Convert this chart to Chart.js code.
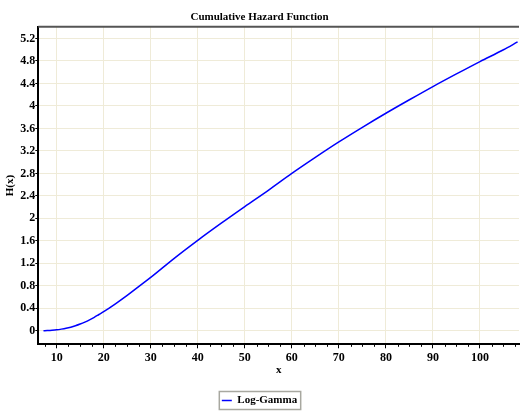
<!DOCTYPE html>
<html>
<head>
<meta charset="utf-8">
<script src="https://cdn.jsdelivr.net/npm/chart.js@4.4.1/dist/chart.umd.min.js"></script>
<style>
  body { margin: 0; background: #fff; }
  #wrap { width: 520px; height: 412px; }
</style>
</head>
<body>
<div id="wrap"><canvas id="hazardChart" width="520" height="412"></canvas></div>
<script>
// values
const xValues = [7.2, 8, 9, 10, 11, 12, 13, 14, 15, 16, 17, 18, 19, 20, 22.5, 25, 27.5, 30, 35, 40, 45, 50, 55, 60, 65, 70, 75, 80, 85, 90, 95, 100, 105, 108];
const hValues = [0, 0.004, 0.01, 0.018, 0.03, 0.045, 0.065, 0.09, 0.12, 0.155, 0.195, 0.24, 0.29, 0.34, 0.48, 0.63, 0.79, 0.95, 1.29, 1.61, 1.915, 2.21, 2.5, 2.8, 3.085, 3.36, 3.62, 3.87, 4.11, 4.345, 4.57, 4.79, 5.0, 5.14];
const xTicks = [10, 20, 30, 40, 50, 60, 70, 80, 90, 100];
const yTicks = [0, 0.4, 0.8, 1.2, 1.6, 2, 2.4, 2.8, 3.2, 3.6, 4, 4.4, 4.8, 5.2];
const seriesName = 'Log-Gamma';

const serif = 'Liberation Serif';
const boldFont = { family: serif, weight: 'bold', size: 11 };
const tickFont = { family: serif, weight: 'bold', size: 12 };

// top frame line, minor ticks on x and the box round the legend
const extras = {
    id: 'extras',
    afterDraw(chart) {
        const ctx = chart.ctx;
        const area = chart.chartArea;
        const xs = chart.scales.x;

        ctx.save();
        ctx.strokeStyle = '#555';
        ctx.lineWidth = 2;
        ctx.beginPath();
        ctx.moveTo(area.left, area.top);
        ctx.lineTo(area.right, area.top);
        ctx.stroke();

        ctx.strokeStyle = '#000';
        ctx.lineWidth = 1;
        const step = (xTicks[1] - xTicks[0]) / 4;
        for (let v = xTicks[0] - step * 4; v <= xs.max; v += step) {
            if (v < xs.min || xTicks.includes(v)) continue;
            const px = Math.round(xs.getPixelForValue(v)) + 0.5;
            ctx.beginPath();
            ctx.moveTo(px, area.bottom);
            ctx.lineTo(px, area.bottom + 2.5);
            ctx.stroke();
        }

        const box = chart.legend.legendHitBoxes[0];
        if (box) {
            ctx.strokeStyle = '#a8a8a0';
            ctx.lineWidth = 1.5;
            ctx.strokeRect(box.left - 2.5, box.top - 3.5, box.width + 6, box.height + 7);
        }
        ctx.restore();
    }
};

new Chart(document.getElementById('hazardChart'), {
    type: 'line',
    data: {
        datasets: [{
            label: seriesName,
            data: xValues.map((x, i) => ({ x: x, y: hValues[i] })),
            borderColor: '#0000ff',
            backgroundColor: '#0000ff',
            borderWidth: 1.5,
            pointRadius: 0,
            fill: false,
            cubicInterpolationMode: 'monotone'
        }]
    },
    options: {
        responsive: false,
        animation: false,
        layout: {
            padding: { left: 0, right: 1, top: 0, bottom: -4 }
        },
        plugins: {
            title: {
                display: true,
                text: 'Cumulative Hazard Function',
                color: '#000',
                font: boldFont,
                padding: { top: 11, bottom: 2.5 }
            },
            legend: {
                position: 'bottom',
                labels: {
                    color: '#000',
                    font: boldFont,
                    usePointStyle: true,
                    pointStyle: 'line',
                    pointStyleWidth: 10,
                    padding: 4
                }
            },
            tooltip: { enabled: false }
        },
        scales: {
            x: {
                type: 'linear',
                min: 6.1,
                max: 108.3,
                afterBuildTicks: scale => {
                    scale.ticks = xTicks.map(v => ({ value: v }));
                },
                afterFit: scale => { scale.height = 46.7; },
                ticks: {
                    color: '#000',
                    font: tickFont,
                    padding: 2,
                    maxRotation: 0,
                    callback: v => String(v)
                },
                grid: {
                    color: '#efebd8',
                    tickColor: '#000',
                    tickLength: 4
                },
                border: { color: '#000', width: 2 },
                title: {
                    display: true,
                    text: 'x',
                    color: '#000',
                    font: boldFont,
                    padding: { top: 0, bottom: 14 }
                }
            },
            y: {
                min: -0.24,
                max: 5.41,
                afterBuildTicks: scale => {
                    scale.ticks = yTicks.map(v => ({ value: v }));
                },
                afterFit: scale => { scale.width = 38.3; },
                ticks: {
                    color: '#000',
                    font: tickFont,
                    padding: 0,
                    callback: v => String(v)
                },
                grid: {
                    color: '#efebd8',
                    tickColor: '#000',
                    tickLength: 3
                },
                border: { color: '#000', width: 2 },
                title: {
                    display: true,
                    text: 'H(x)',
                    color: '#000',
                    font: boldFont,
                    padding: { top: 3.4, bottom: 0 }
                }
            }
        }
    },
    plugins: [extras]
});
</script>
</body>
</html>
